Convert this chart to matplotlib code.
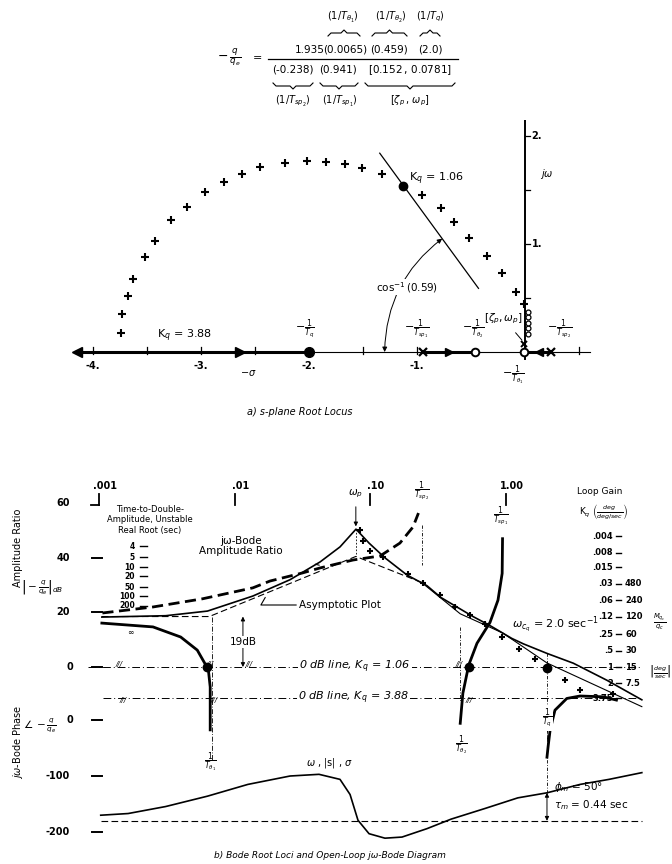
import numpy as np
import matplotlib
matplotlib.use('Agg')
import matplotlib.pyplot as plt
from matplotlib.lines import Line2D
from matplotlib.transforms import blended_transform_factory as blend

plt.rcParams['font.family'] = ['DejaVu Sans']
plt.rcParams['mathtext.fontset'] = 'dejavusans'

W, H = 672, 864

# ---- transfer function factors -------------------------------------------
k_gain = 1.935
inv_t_theta1 = 0.0065
inv_t_theta2 = 0.459
inv_t_q = 2.0
inv_t_sp2 = -0.238      # unstable real root
inv_t_sp1 = 0.941
zeta_p = 0.152
omega_p = 0.0781
zeta_line = 0.59

# ---- s-plane root locus (complex branch) ---------------------------------
locus_sigma = [-3.74, -3.73, -3.68, -3.63, -3.52, -3.43, -3.28, -3.13, -2.96,
               -2.79, -2.62, -2.45, -2.22, -2.02, -1.84, -1.67, -1.51, -1.32,
               -0.95, -0.78, -0.66, -0.52, -0.35, -0.21, -0.08, -0.01]
locus_omega = [0.18, 0.35, 0.52, 0.68, 0.88, 1.03, 1.22, 1.34, 1.48,
               1.57, 1.65, 1.71, 1.75, 1.77, 1.76, 1.74, 1.70, 1.65,
               1.45, 1.33, 1.20, 1.06, 0.89, 0.73, 0.56, 0.44]
kq106_sigma, kq106_omega = -1.13, 1.54
low_gain_omega = [0.17, 0.22, 0.27, 0.32, 0.37]
sigma_ticks = [-4.0, -3.5, -3.0, -2.5, -1.5, -1.0, 0.5]
sigma_labels = [-4, -3, -2, -1]
omega_ticks = [0.5, 1.0, 1.5, 2.0]

# ---- Bode plot data (omega in rad/sec, amplitude in dB) -------------------
jw_w = [0.00105, 0.0031, 0.0063, 0.0136, 0.0256, 0.0426, 0.0597, 0.0783,
        0.0977, 0.128, 0.186, 0.261, 0.33, 0.57, 0.76, 1.10, 1.34, 2.0,
        3.13, 5.51, 10.0]
jw_db = [18.3, 18.8, 20.5, 26.0, 32.0, 38.5, 44.0, 50.5,
         45.4, 40.0, 33.7, 29.8, 25.5, 18.5, 15.2, 10.5, 8.5, 5.0,
         1.4, -4.8, -12.0]

asym_w = [0.00105, inv_t_theta1, omega_p, -inv_t_sp2, inv_t_theta2, inv_t_sp1, inv_t_q, 10.0]
asym_db = [18.5, 18.5, 40.5, 31.0, 19.5, 12.5, 1.5, -14.5]

unstable_w = [0.00106, 0.0025, 0.0058, 0.0136, 0.0182, 0.0318, 0.0426, 0.0745,
              0.118, 0.165, 0.206, 0.226]
unstable_db = [19.8, 22.0, 25.0, 29.0, 31.5, 34.5, 36.3, 39.2,
               40.7, 45.4, 51.3, 56.4]

theta1_w = [0.00105, 0.0025, 0.0040, 0.0053, 0.0060, 0.0064, 0.0066, 0.0066]
theta1_db = [16.1, 14.7, 11.0, 6.2, 1.5, -1.1, -7.3, -23.0]

sp1_w = [0.941, 0.935, 0.871, 0.76, 0.61, 0.53, 0.48, 0.459]
sp1_db = [47.0, 34.3, 24.5, 16.3, 8.7, 0.7, -9.6, -20.6]

tq_w = [2.0, 2.04, 2.11, 2.29, 2.8, 3.51, 5.2, 6.5]
tq_db = [-33.0, -29.0, -23.0, -15.8, -11.5, -10.6, -10.9, -12.1]

cross_w = [0.0838, 0.0881, 0.100, 0.124, 0.189, 0.244, 0.326, 0.420, 0.542,
           0.698, 0.93, 1.24, 1.63, 2.72, 3.51, 6.14]
cross_db = [50.2, 46.2, 42.5, 40.4, 34.0, 30.9, 26.4, 22.1, 19.0,
            15.8, 10.9, 6.5, 2.8, -4.8, -8.4, -10.0]
dot_w = [0.0062, 0.53, 2.0]
dot_db = [0.0, 0.0, -0.5]

phase_w = [0.00103, 0.00164, 0.0031, 0.0063, 0.0125, 0.0256, 0.0418, 0.0597,
           0.0708, 0.081, 0.0977, 0.128, 0.171, 0.261, 0.393, 0.698, 1.22,
           2.0, 3.51, 5.73, 10.0]
phase_deg = [-170, -167, -154.5, -136, -115, -100, -97, -106,
             -133, -179, -203, -211, -209, -194, -177, -158, -139,
             -130, -115, -106, -94]

kq_low, kq_high = 1.06, 3.88
db_labels = [60, 40, 20, 0]
phase_labels = [0, -100, -200]
decades = [0.001, 0.01, 0.1, 1.0]
decade_text = ['.001', '.01', '.10', '1.00']
loop_kq = ['.004', '.008', '.015', '.03', '.06', '.12', '.25', '.5', '1', '2', '3.75']
loop_kq_val = [0.004, 0.008, 0.015, 0.03, 0.06, 0.12, 0.25, 0.5, 1.0, 2.0, 3.75]
loop_mq = ['', '', '', '480', '240', '120', '60', '30', '15', '7.5', '']
t2_text = ['4', '5', '10', '20', '50', '100', '200', r'$\infty$']
t2_db = [44.3, 40.3, 36.6, 33.3, 29.2, 25.9, 22.4, 12.8]

fig = plt.figure(figsize=(W / 100, H / 100), dpi=100)


def ftext(x, y, s, **kw):
    kw.setdefault('ha', 'center')
    kw.setdefault('va', 'center')
    fig.text(x / W, 1 - y / H, s, **kw)


def fline(xs, ys, **kw):
    kw.setdefault('color', 'k')
    fig.add_artist(Line2D([x / W for x in xs], [1 - y / H for y in ys],
                          transform=fig.transFigure, **kw))


def brace(x0, x1, y, up=True):
    d = -3 if up else 3
    xm = (x0 + x1) / 2
    fline([x0, x0 + 3, xm - 3, xm, xm + 3, x1 - 3, x1],
          [y - d, y, y, y + d, y, y, y - d], lw=0.8)


# ---- equation -------------------------------------------------------------
ftext(229, 57, r'$-\,\frac{q}{q_e}$', fontsize=9)
ftext(257, 58, '=', fontsize=8)
for x, s in zip([310, 345, 389, 430],
                [f'{k_gain}', f'({inv_t_theta1})', f'({inv_t_theta2})', f'({inv_t_q})']):
    ftext(x, 50, s, fontsize=7.5)
fline([268, 458], [59, 59], lw=0.9)
for x, s in zip([293, 338, 410],
                [f'({inv_t_sp2})', f'({inv_t_sp1})',
                 r'$\left[' + f'{zeta_p}' + r'\,,\,' + f'{omega_p}' + r'\right]$']):
    ftext(x, 70, s, fontsize=7.5)
for x, s in zip([343, 391, 430], [r'$(1/T_{\theta_1})$', r'$(1/T_{\theta_2})$', r'$(1/T_q)$']):
    ftext(x, 17, s, fontsize=7)
for x0, x1 in [(328, 360), (372, 407), (420, 440)]:
    brace(x0, x1, 33, up=True)
for x0, x1 in [(273, 313), (320, 358), (365, 455)]:
    brace(x0, x1, 86, up=False)
for x, s in zip([293, 340, 410], [r'$(1/T_{sp_2})$', r'$(1/T_{sp_1})$', r'$\left[\zeta_p\,,\,\omega_p\right]$']):
    ftext(x, 101, s, fontsize=7)

# ---- a) s-plane -----------------------------------------------------------
ax_s = fig.add_axes([60 / W, 1 - 380 / H, 550 / W, 260 / H])
ax_s.set_xlim(-4.306, 0.787)
ax_s.set_ylim(-0.259, 2.148)
ax_s.axis('off')

ax_s.plot([-4.17, 0.6], [0, 0], color='k', lw=0.8)
ax_s.plot([0, 0], [-0.06, 2.15], color='k', lw=1.4)
for t in sigma_ticks:
    ax_s.plot([t, t], [-0.02, 0.05], color='k', lw=0.9)
for t in omega_ticks:
    ax_s.plot([0, 0.05], [t, t], color='k', lw=0.9)
for t in sigma_labels:
    ax_s.text(t, -0.13, f'{t}.', ha='center', va='center', fontsize=7, fontweight='bold')
for t in [1, 2]:
    ax_s.text(0.06, t, f'{t}.', ha='left', va='center', fontsize=7, fontweight='bold')
ax_s.text(0.2, 1.65, r'$j\omega$', ha='center', va='center', fontsize=7)
ax_s.text(-2.56, -0.19, r'$-\sigma$', ha='center', va='center', fontsize=7)

# real-axis branches
for a, b in [(-4.17, -inv_t_q), (-inv_t_sp1, -inv_t_theta2), (-inv_t_theta1, -inv_t_sp2)]:
    ax_s.plot([a, b], [0, 0], color='k', lw=2.2, solid_capstyle='butt')
ax_s.plot(-4.15, 0, marker='<', ms=7, color='k')
ax_s.plot(-2.64, 0, marker='>', ms=7, color='k')
ax_s.plot(-0.70, 0, marker='>', ms=6, color='k')
ax_s.plot(0.13, 0, marker='<', ms=6, color='k')

ax_s.plot(-inv_t_q, 0, 'o', ms=7, color='k')
ax_s.plot([-inv_t_sp1, -inv_t_sp2], [0, 0], 'x', ms=6, mew=1.6, color='k')
ax_s.plot([-inv_t_theta2, -inv_t_theta1], [0, 0], 'o', ms=5.5, mfc='white', mec='k', mew=1.4)
ax_s.plot(-zeta_p * omega_p, omega_p * np.sqrt(1 - zeta_p ** 2), 'x', ms=5, mew=1.4, color='k')

ax_s.plot(locus_sigma, locus_omega, '+', ms=5.5, mew=1.5, color='k')
ax_s.plot([0.03] * len(low_gain_omega), low_gain_omega, 'o', ms=3.5, mfc='white', mec='k', mew=0.9)
ax_s.plot(kq106_sigma, kq106_omega, 'o', ms=6, color='k')

# constant damping ray and its angle
r = np.array([0.73, 2.28])
ax_s.plot(-zeta_line * r, np.sqrt(1 - zeta_line ** 2) * r, color='k', lw=0.9)
r_arc = 1.3
ax_s.annotate('', xy=(-zeta_line * r_arc, np.sqrt(1 - zeta_line ** 2) * r_arc),
              xytext=(-r_arc, 0.0),
              arrowprops=dict(arrowstyle='<|-|>', lw=0.7, color='k', mutation_scale=7,
                              shrinkA=0, shrinkB=0, connectionstyle='arc3,rad=-0.24'))
ax_s.text(-1.09, 0.60, r'$\cos^{-1}(0.59)$', ha='center', va='center', fontsize=7.5,
          bbox=dict(fc='white', ec='none', pad=0.5))
ax_s.text(-1.07, 1.60, r'K$_q$ = ' + f'{kq_low}', ha='left', va='center', fontsize=8)
ax_s.text(-3.15, 0.15, r'K$_q$ = ' + f'{kq_high}', ha='center', va='center', fontsize=8)

frac_kw = dict(ha='center', va='center', fontsize=8)
ax_s.text(-2.04, 0.21, r'$-\frac{1}{T_q}$', **frac_kw)
ax_s.text(-1.0, 0.21, r'$-\frac{1}{T_{sp_1}}$', **frac_kw)
ax_s.text(-0.48, 0.21, r'$-\frac{1}{T_{\theta_2}}$', **frac_kw)
ax_s.text(0.32, 0.21, r'$-\frac{1}{T_{sp_2}}$', **frac_kw)
ax_s.text(-0.11, -0.21, r'$-\frac{1}{T_{\theta_1}}$', **frac_kw)
ax_s.annotate(r'$\left[\zeta_p,\omega_p\right]$', xy=(-0.02, 0.1), xytext=(-0.2, 0.31),
              ha='center', va='center', fontsize=7.5,
              arrowprops=dict(arrowstyle='-', lw=0.7, color='k', shrinkA=4, shrinkB=1))
ftext(300, 412, 'a) s-plane Root Locus', fontsize=7, style='italic')

# ---- b) Bode amplitude ----------------------------------------------------
wlim = (10 ** -3.103, 10 ** 1.097)
ax_a = fig.add_axes([85 / W, 1 - 770 / H, 570 / W, 290 / H])
ax_a.set_xscale('log')
ax_a.set_xlim(*wlim)
ax_a.set_ylim(-37.7, 68.5)
ax_a.axis('off')
ax_a.patch.set_visible(False)

ax_p = fig.add_axes([85 / W, 1 - 850 / H, 570 / W, 150 / H])
ax_p.set_xscale('log')
ax_p.set_xlim(*wlim)
ax_p.set_ylim(-232.1, 35.7)
ax_p.axis('off')
ax_p.patch.set_visible(False)

left_a = blend(fig.transFigure, ax_a.transData)
top_a = blend(ax_a.transData, fig.transFigure)
left_p = blend(fig.transFigure, ax_p.transData)

for v in db_labels:
    ax_a.text(70 / W, v, f'{v}', transform=left_a, ha='right' if v else 'center', va='center',
              fontsize=7, fontweight='bold')
    if v != 60:
        ax_a.plot([92 / W, 102 / W], [v, v], color='k', lw=1.4, transform=left_a)
for v in phase_labels:
    ax_p.text(70 / W, v, f'{v}', transform=left_p, ha='right' if v else 'center', va='center',
              fontsize=7, fontweight='bold')
    ax_p.plot([92 / W, 102 / W], [v, v], color='k', lw=1.4, transform=left_p)

for w, s in zip(decades, decade_text):
    ax_a.text(w * 1.1, 1 - 486 / H, s, transform=top_a, ha='center', va='center',
              fontsize=7, fontweight='bold')
    ax_a.plot([w, w], [1 - 494 / H, 1 - 505 / H], color='k', lw=1.3, transform=top_a)
ax_a.plot([0.00088, 0.001], [1 - 505 / H, 1 - 505 / H], color='k', lw=1.3, transform=top_a)

ftext(18, 548, 'Amplitude Ratio', rotation=90, fontsize=7)
ftext(42, 588, r'$\left|-\frac{q}{q_e}\right|_{dB}$', fontsize=7.5)
ftext(18, 742, r'$j\omega$-Bode Phase', rotation=90, fontsize=7)
ftext(40, 726, r'$\angle\,-\frac{q}{q_e}$', fontsize=7.5)

# reference gain lines
db_high = -20 * np.log10(kq_high / kq_low)
ax_a.plot([0.00083, 10.0], [0, 0], color='k', lw=0.7, ls=(0, (8, 3, 1, 3)))
ax_a.plot([0.00107, 10.0], [db_high, db_high], color='k', lw=0.7, ls=(0, (8, 3, 1, 3)))
for w in [0.00140, 0.0066, 0.0128, 0.45]:
    ax_a.text(w, 1.2, '///', fontsize=5, style='italic', ha='center', va='center')
for w in [0.00150, 0.0070, 0.53]:
    ax_a.text(w, db_high - 0.8, '///', fontsize=5, style='italic', ha='center', va='center')
ax_a.text(0.0300, 0, r'0 dB line, K$_q$ = ' + f'{kq_low}', ha='left', va='center', fontsize=8,
          style='italic', bbox=dict(fc='white', ec='none', pad=1))
ax_a.text(0.0292, db_high, r'0 dB line, K$_q$ = ' + f'{kq_high}', ha='left', va='center',
          fontsize=8, style='italic', bbox=dict(fc='white', ec='none', pad=1))

# construction lines
ax_a.plot([inv_t_theta1 * 1.04] * 2, [18.5, -34], color='k', lw=0.6, ls=(0, (6, 2, 1, 2)))
ax_a.plot([inv_t_theta2] * 2, [14.5, -12.5], color='k', lw=0.6, ls=(0, (4, 2, 1, 2)))
ax_a.plot([inv_t_q] * 2, [5.0, -30], color='k', lw=0.6, ls=(0, (4, 2, 1, 2)))
ax_a.plot([omega_p] * 2, [50.5, 40.5], color='k', lw=0.6, ls=(0, (2, 2)))
ax_a.plot([-inv_t_sp2] * 2, [52, 37.5], color='k', lw=0.6, ls=(0, (4, 2, 1, 2)))
ax_a.annotate('', xy=(0.0115, 0), xytext=(0.0115, 18.5),
              arrowprops=dict(arrowstyle='<|-|>', lw=0.7, color='k', mutation_scale=6,
                              shrinkA=0, shrinkB=0))
ax_a.text(0.0115, 9.2, '19dB', ha='center', va='center', fontsize=7.5,
          bbox=dict(fc='white', ec='none', pad=0.6))

# curves: asymptotes dashed up to the unstable-root break, solid beyond
ax_a.plot(asym_w[:4], asym_db[:4], color='k', lw=0.8, ls=(0, (6, 3)))
ax_a.plot(asym_w[3:], asym_db[3:], color='k', lw=0.8)
ax_a.plot(jw_w, jw_db, color='k', lw=1.2)
ax_a.plot(unstable_w, unstable_db, color='k', lw=2.0, ls=(0, (4, 2)))
ax_a.plot(theta1_w, theta1_db, color='k', lw=2.0)
ax_a.plot(sp1_w, sp1_db, color='k', lw=2.0)
ax_a.plot(tq_w, tq_db, color='k', lw=2.0)
ax_a.plot(cross_w, cross_db, '+', ms=5, mew=1.5, color='k')
ax_a.plot(dot_w, dot_db, 'o', ms=6, color='k')

# labels on the amplitude plot
ax_a.annotate(r'$\omega_p$', xy=(omega_p, 51.5), xytext=(omega_p, 63.5), ha='center', va='center',
              fontsize=7.5, arrowprops=dict(arrowstyle='-|>', lw=0.7, color='k', mutation_scale=6,
                                            shrinkA=3, shrinkB=0))
ax_a.text(-inv_t_sp2 * 1.01, 64.5, r'$\frac{1}{T_{sp_2}}$', ha='center', va='center', fontsize=8)
ax_a.text(inv_t_sp1 * 0.98, 55.3, r'$\frac{1}{T_{sp_1}}$', ha='center', va='center', fontsize=8)
ax_a.text(inv_t_theta1 * 1.02, -35.0, r'$\frac{1}{T_{\theta_1}}$', ha='center', va='center', fontsize=8)
ax_a.text(inv_t_theta2 * 1.02, -28.5, r'$\frac{1}{T_{\theta_2}}$', ha='center', va='center', fontsize=8)
ax_a.text(0.050, -35.0, r'$\omega$ , |s| , $\sigma$', ha='center', va='center', fontsize=7)
ax_a.text(1.10, 15.5, r'$\omega_{c_q}$ = 2.0 sec$^{-1}$', ha='left', va='center', fontsize=8)
ax_a.annotate('jω-Bode\nAmplitude Ratio', xy=(0.042, 37.3), xytext=(241 / W, 1 - 546 / H),
              textcoords='figure fraction', ha='center', va='center', fontsize=7.5, linespacing=1.1,
              arrowprops=dict(arrowstyle='-', lw=0.8, color='k', shrinkA=22, shrinkB=0))
ax_a.annotate('Asymptotic Plot', xy=(0.0168, 25.5), xytext=(340 / W, 1 - 605 / H),
              textcoords='figure fraction', ha='center', va='center', fontsize=7.5,
              arrowprops=dict(arrowstyle='-', lw=0.8, color='k', shrinkA=44, shrinkB=0,
                              connectionstyle='angle,angleA=0,angleB=60,rad=0'))

# time-to-double scale on the left
ftext(150, 520, 'Time-to-Double-\nAmplitude, Unstable\nReal Root (sec)', fontsize=6, linespacing=1.15)
for s, v in zip(t2_text, t2_db):
    ax_a.text(135 / W, v, s, transform=left_a, ha='right', va='center', fontsize=5.5, fontweight='bold')
    if s != r'$\infty$':
        ax_a.plot([140 / W, 147 / W], [v, v], color='k', lw=1.0, transform=left_a)

# loop gain scale on the right
ftext(600, 492, 'Loop Gain', fontsize=6.5)
ftext(604, 512, r'K$_q$ $\left(\frac{deg}{deg/sec}\right)$', fontsize=6.5)
for s, v, m in zip(loop_kq, loop_kq_val, loop_mq):
    db = -20 * np.log10(v)
    ax_a.text(613 / W, db, s, transform=left_a, ha='right', va='center', fontsize=6, fontweight='bold')
    ax_a.plot([616 / W, 621 / W], [db, db], color='k', lw=1.0, transform=left_a)
    if m:
        ax_a.text(625 / W, db, m, transform=left_a, ha='left', va='center', fontsize=6,
                  fontweight='bold')
ftext(660, 622, r'$\frac{M_{q_c}}{q_c}$', fontsize=7)
ftext(660, 672, r'$\left|\frac{deg}{sec}\right|$', fontsize=6.5)

# ---- b) Bode phase --------------------------------------------------------
ax_p.plot([0.00103, 10.0], [-180, -180], color='k', lw=0.8, ls=(0, (6, 3)))
ax_p.plot(phase_w, phase_deg, color='k', lw=1.2)
ax_p.annotate('', xy=(inv_t_q, -130), xytext=(inv_t_q, -180),
              arrowprops=dict(arrowstyle='<|-|>', lw=0.7, color='k', mutation_scale=6,
                              shrinkA=0, shrinkB=0))
ax_p.plot([inv_t_q] * 2, [-130, 5], color='k', lw=0.6, ls=(0, (4, 2, 1, 2)))
ax_p.text(inv_t_q, 3, r'$\frac{1}{T_q}$', ha='center', va='center', fontsize=8,
          bbox=dict(fc='white', ec='none', pad=0.3))
ax_p.text(2.25, -119, r'$\phi_m$ = 50°', ha='left', va='center', fontsize=7.5)
ax_p.text(2.25, -152, r'$\tau_m$ = 0.44 sec', ha='left', va='center', fontsize=7.5)
ftext(330, 856, 'b) Bode Root Loci and Open-Loop jω-Bode Diagram', fontsize=6.5, style='italic')

fig.savefig('out.png', dpi=100, facecolor='white')
